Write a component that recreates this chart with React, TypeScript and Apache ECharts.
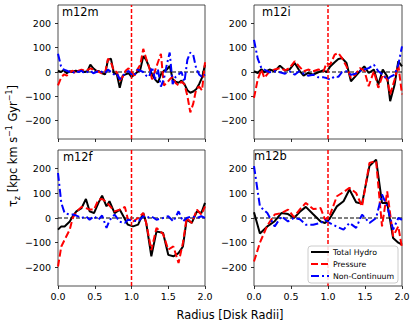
import React, { useEffect, useRef } from "react";
import * as echarts from "echarts";

// ---------- data ----------
const seriesNames = ["Total Hydro", "Pressure", "Non-Continuum"];
const panelNames = ["m12m", "m12i", "m12f", "m12b"];
const xTicks = [0, 0.5, 1, 1.5, 2];
const yTicks = [-200, -100, 0, 100, 200];
const diskEdge = 1; // vertical reference at 1 disk radius
const zeroLevel = 0; // horizontal reference

// m12m
const m12mX = [0, 0.04, 0.08, 0.12, 0.16, 0.2, 0.24, 0.28, 0.32, 0.36, 0.4, 0.44, 0.48, 0.52, 0.56, 0.6, 0.64, 0.68, 0.72, 0.76, 0.8, 0.84, 0.88, 0.92, 0.96, 1.0, 1.04, 1.08, 1.12, 1.16, 1.2, 1.24, 1.28, 1.32, 1.36, 1.4, 1.44, 1.48, 1.52, 1.56, 1.6, 1.64, 1.68, 1.72, 1.76, 1.8, 1.84, 1.88, 1.92, 1.96, 2.0];
const m12mHydro = [5, 0, 8, -5, 3, 0, 5, 3, 5, 0, 3, 30, 15, 5, 3, -5, -10, 50, 55, -5, -8, -65, -15, -10, -5, -20, -10, 0, 10, 65, 50, 20, -10, -30, -44, -10, 5, 10, 25, -30, -40, -44, -35, -50, -75, -85, -80, -71, -50, -23, 30];
const m12mPressure = [-55, -25, -10, -15, 0, 5, -5, 5, 10, 5, 8, 15, 10, 5, 0, -5, -5, 55, 40, 5, 0, -35, -20, 5, 15, 0, -15, 10, 30, 95, 55, 20, -30, 5, 40, 75, -55, -45, -30, -20, -45, -55, -40, -50, -98, -166, -130, -70, -60, -75, 40];
const m12mNonCont = [75, 25, 10, 5, 0, -5, 5, 0, 5, -5, 0, 5, -5, 0, 5, 0, -5, 10, 0, -10, -5, -30, -15, -5, 5, -10, -15, 10, 5, 0, -15, -20, 20, -30, 10, -60, -30, 30, 80, -50, -20, -10, 0, -40, 50, 80, 70, 15, -10, -20, -10];

// m12i
const m12iX = [0, 0.05, 0.1, 0.14, 0.21, 0.28, 0.35, 0.42, 0.48, 0.55, 0.61, 0.67, 0.73, 0.8, 0.87, 0.94, 0.98, 1.03, 1.09, 1.14, 1.19, 1.25, 1.31, 1.37, 1.43, 1.49, 1.55, 1.62, 1.68, 1.74, 1.8, 1.84, 1.9, 1.95, 2.0];
const m12iHydro = [3, -4, 12, -1, 10, 3, 26, 7, 10, 37, 7, -15, -4, -11, -1, 7, -1, 23, 40, 53, 57, 37, -38, -18, 3, 23, -4, 10, -52, 10, -18, -120, -52, 44, 23];
const m12iPressure = [-106, -31, 10, -24, 3, 10, 16, 7, 16, 44, 23, 3, 10, 3, 10, 3, 37, 30, 71, 78, 57, 23, -24, -11, 16, 7, -58, 3, -65, -11, -31, -92, -31, 30, -92];
const m12iNonCont = [132, 55, 16, 10, -1, 3, -1, -7, 3, -11, 3, -7, -15, -11, -22, -22, -25, -31, -18, -20, 0, 3, -11, -7, 3, 10, 16, 30, 3, -11, -31, -20, -11, 30, 105];

// m12f
const m12fX = [0, 0.045, 0.09, 0.16, 0.2, 0.25, 0.32, 0.38, 0.43, 0.49, 0.55, 0.6, 0.66, 0.7, 0.77, 0.84, 0.91, 0.95, 1.02, 1.09, 1.16, 1.2, 1.27, 1.34, 1.43, 1.5, 1.57, 1.64, 1.7, 1.75, 1.82, 1.89, 1.95, 2.0];
const m12fHydro = [-47, -34, -34, -14, 7, 27, 40, 77, 27, 20, 61, 90, 47, 68, 20, 34, -4, -27, -34, -27, 20, -20, -155, -54, -61, -149, -155, -142, -115, -7, -20, 27, 20, 61];
const m12fPressure = [-196, -115, -88, -47, 0, 25, 45, 40, 34, 34, 74, 77, 65, 50, 27, 34, 45, -4, -14, 0, 20, -20, -130, -40, -65, -128, -115, -182, -100, 0, -20, 34, 14, 47];
const m12fNonCont = [182, 61, 20, 14, 14, 10, 0, 7, -7, 7, -7, 10, -40, -10, 14, -15, -20, -7, -10, -14, 7, 0, 7, -7, 0, 7, -14, 27, -14, 0, 7, 0, 7, 0];

// m12b
const m12bX = [0, 0.08, 0.18, 0.28, 0.37, 0.46, 0.54, 0.62, 0.7, 0.8, 0.9, 0.96, 1.02, 1.12, 1.21, 1.29, 1.38, 1.46, 1.56, 1.65, 1.73, 1.8, 1.88, 1.95, 2.0];
const m12bHydro = [23, -63, -34, -13, 20, 16, 0, 25, 45, 15, -14, -20, -4, 47, 68, 115, 64, 58, 210, 236, 61, 61, -81, -100, -108];
const m12bPressure = [-176, -100, -30, 14, 20, 34, 4, 35, 61, 36, 40, -7, 7, 88, 105, 122, 101, 47, 223, 230, -34, 108, -74, -34, -122];
const m12bNonCont = [210, 47, 20, -34, 7, -14, 0, -5, -27, -27, -20, -7, -20, -35, -47, -20, -40, 14, -20, 0, 95, 47, -47, 0, -7];

const panelX = [m12mX, m12iX, m12fX, m12bX];
const panelY = [
  [m12mHydro, m12mPressure, m12mNonCont],
  [m12iHydro, m12iPressure, m12iNonCont],
  [m12fHydro, m12fPressure, m12fNonCont],
  [m12bHydro, m12bPressure, m12bNonCont],
];

// ---------- styling ----------
const FONT = "DejaVu Sans";
const seriesColors = ["#000000", "#ff0000", "#0000ff"];
const seriesDash: any[] = ["solid", [7, 3], [8, 3, 2, 3]];
const Y_MIN = -275;
const Y_MAX = 275;
const grids = [
  { left: 58, top: 5, width: 147, height: 134 },
  { left: 254, top: 5, width: 148, height: 134 },
  { left: 58, top: 150, width: 147, height: 136 },
  { left: 254, top: 150, width: 148, height: 136 },
];
const titlePos = [
  { left: 62, top: 6 },
  { left: 262, top: 6 },
  { left: 63, top: 151 },
  { left: 254, top: 150 },
];
const legendBox = { x: 308, y: 246, w: 90, h: 37 };

export default function App() {
  const ref = useRef<HTMLDivElement>(null);
  useEffect(() => {
    if (!ref.current) return;
    const chart = echarts.init(ref.current, undefined, { renderer: "svg" });
    const xAxis = grids.map((_, i) => ({
      type: "value",
      gridIndex: i,
      min: 0,
      max: 2,
      interval: 0.5,
      axisLine: { show: false, onZero: false },
      axisTick: { show: true, inside: false, length: 3, lineStyle: { color: "#000", width: 0.8 }, customValues: xTicks },
      axisLabel: {
        show: i >= 2,
        margin: 5,
        fontSize: 9.5,
        fontFamily: FONT,
        color: "#000",
        customValues: xTicks,
        formatter: (v: number) => v.toFixed(1),
      },
      splitLine: { show: false },
      axisPointer: { show: false },
    }));
    const yAxis = grids.map((_, i) => ({
      type: "value",
      gridIndex: i,
      min: Y_MIN,
      max: Y_MAX,
      axisLine: { show: false, onZero: false },
      axisTick: { show: true, inside: false, length: 3, lineStyle: { color: "#000", width: 0.8 }, customValues: yTicks },
      axisLabel: {
        margin: 7,
        fontSize: 9.5,
        fontFamily: FONT,
        color: "#000",
        customValues: yTicks,
        formatter: (v: number) => (v < 0 ? "\u2212" + Math.abs(v) : String(v)),
      },
      splitLine: { show: false },
      axisPointer: { show: false },
    }));
    const series: any[] = [];
    panelX.forEach((xs, p) => {
      panelY[p].forEach((ys, s) => {
        series.push({
          type: "line",
          name: seriesNames[s],
          xAxisIndex: p,
          yAxisIndex: p,
          data: xs.map((x, j) => [x, ys[j]]),
          showSymbol: false,
          symbol: "none",
          z: 3 + s,
          lineStyle: { color: seriesColors[s], width: 2, type: seriesDash[s] },
          itemStyle: { color: seriesColors[s] },
        });
      });
      // reference lines
      series.push({
        type: "line",
        name: "zero" + p,
        xAxisIndex: p,
        yAxisIndex: p,
        data: [
          [0, zeroLevel],
          [2, zeroLevel],
        ],
        showSymbol: false,
        symbol: "none",
        silent: true,
        z: 1,
        lineStyle: { color: "#000000", width: 1, type: [4, 2] },
        itemStyle: { color: "#000000" },
      });
      series.push({
        type: "line",
        name: "edge" + p,
        xAxisIndex: p,
        yAxisIndex: p,
        data: [
          [diskEdge, Y_MIN],
          [diskEdge, Y_MAX],
        ],
        showSymbol: false,
        symbol: "none",
        silent: true,
        z: 10,
        lineStyle: { color: "#ff0000", width: 1.5, type: [4, 2] },
        itemStyle: { color: "#ff0000" },
      });
    });

    const legendGraphics: any[] = [
      {
        type: "rect",
        shape: { x: legendBox.x, y: legendBox.y, width: legendBox.w, height: legendBox.h, r: 3 },
        style: { fill: "rgba(255,255,255,0.85)", stroke: "#cccccc", lineWidth: 1 },
        z: 100,
      },
    ];
    seriesNames.forEach((n, i) => {
      const cy = legendBox.y + 6 + i * 12;
      legendGraphics.push({
        type: "line",
        shape: { x1: legendBox.x + 3, y1: cy, x2: legendBox.x + 21, y2: cy },
        style: { stroke: seriesColors[i], lineWidth: 2, lineDash: seriesDash[i] === "solid" ? null : seriesDash[i] },
        z: 101,
      });
      legendGraphics.push({
        type: "text",
        x: legendBox.x + 25,
        y: cy,
        style: { text: n, fontSize: 7.8, fontFamily: FONT, fill: "#000", align: "left", verticalAlign: "middle" },
        z: 101,
      });
    });

    chart.setOption({
      animation: false,
      backgroundColor: "#fff",
      grid: grids.map((g) => ({ ...g, show: true, borderColor: "#222", borderWidth: 0.8, backgroundColor: "transparent" })),
      xAxis,
      yAxis,
      title: panelNames.map((n, i) => ({
        text: n,
        left: titlePos[i].left,
        top: titlePos[i].top,
        padding: 0,
        textStyle: { fontSize: 11.4, fontWeight: "normal", fontFamily: FONT, color: "#000" },
      })),
      graphic: [
        {
          type: "text",
          x: 230,
          y: 315,
          style: {
            text: "Radius [Disk Radii]",
            fontSize: 11.4,
            fontFamily: FONT,
            fill: "#000",
            align: "center",
            verticalAlign: "middle",
          },
        },
        {
          type: "text",
          x: 13,
          y: 146,
          rotation: Math.PI / 2,
          style: {
            text: "{a|\u03c4}{b|z}{a| [kpc km s}{c|\u22121}{a| Gyr}{c|\u22121}{a|]}",
            fontFamily: FONT,
            fill: "#000",
            align: "center",
            verticalAlign: "middle",
            rich: {
              a: { fontSize: 11.4, fontFamily: FONT, lineHeight: 16, verticalAlign: "middle" },
              b: { fontSize: 8, fontFamily: FONT, lineHeight: 8, verticalAlign: "bottom" },
              c: { fontSize: 8, fontFamily: FONT, lineHeight: 8, verticalAlign: "top" },
            },
          },
        },
        ...legendGraphics,
      ],
      series,
    });
    return () => chart.dispose();
  }, []);
  return <div ref={ref} style={{ position: "fixed", left: 0, top: 0, width: 415, height: 327 }} />;
}
